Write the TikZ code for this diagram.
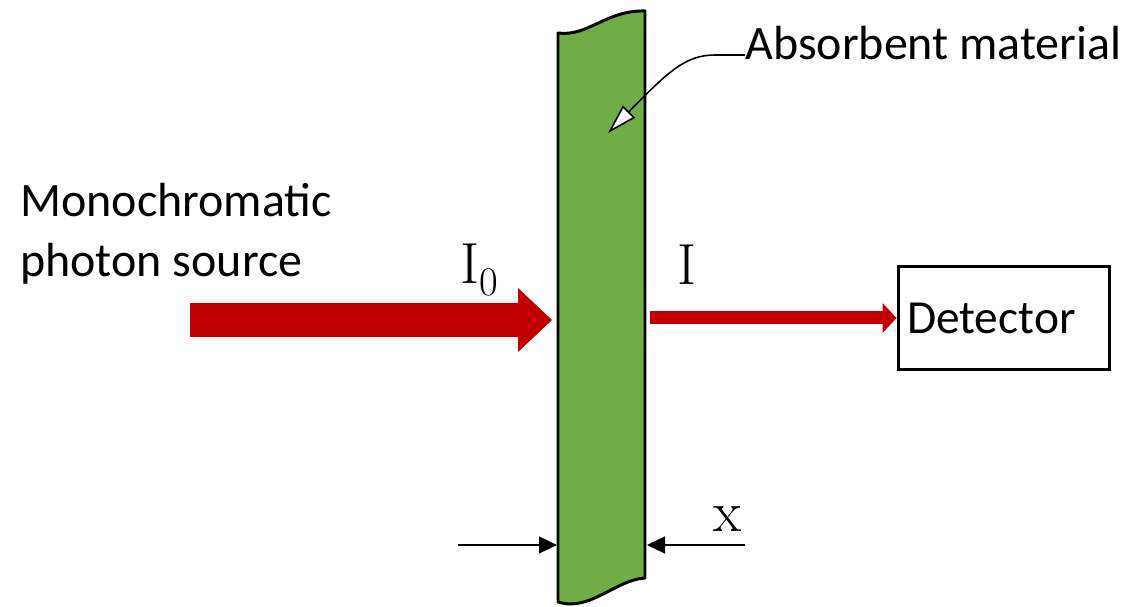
\documentclass[tikz,border=0pt]{standalone}
\usepackage{fontspec}
\setsansfont{Carlito}
\usetikzlibrary{arrows.meta,positioning,calc}
\definecolor{beamRed}{RGB}{192,0,0}
\definecolor{slabGreen}{RGB}{112,173,71}
\tikzset{abspanel/.style={
  x=0.02cm, y=-0.02cm,
  font=\sffamily\fontsize{27}{34}\selectfont,
  slab/.style={fill=slabGreen, draw=black, line width=1.7pt, line join=round},
  beam/.style={draw=beamRed, line cap=butt},
  lab/.style={inner sep=0pt, font=\sffamily\fontsize{27.3}{34}\selectfont},
  sym/.style={inner sep=0pt, font=\rmfamily\fontsize{33}{36}\selectfont},
  detbox/.style={draw=black, line width=1.7pt, inner xsep=0.18cm, text width=3.88cm, align=left, minimum height=2.06cm},
  callout/.style={-{Triangle[fill=white, length=0.6cm, width=0.34cm]}, line width=0.9pt},
  dimline/.style={-{Triangle[length=0.36cm, width=0.34cm]}, line width=0.75pt},
}}

\begin{document}
\begin{tikzpicture}[abspanel]
% =====================================================================
%  Beam through an absorbing slab of thickness x
% =====================================================================
\useasboundingbox (0,0) rectangle (1127,607);

% slab with torn ends
\draw[slab] (558,33) .. controls (588,37) and (606,10) .. (645,11) -- (645,578)
  .. controls (615,580) and (590,612) .. (558,602) -- cycle;

\coordinate (SrcTail) at (190,320);
\coordinate (SlabIn)  at (552,320);
\coordinate (SlabOut) at (650,318);

% labels
\node[lab, align=left, anchor=north west] (Src) at (20,183) {Monochromatic\\photon source};
\node[sym, anchor=base west] (Ia) at (460,284) {I\textsubscript{0}};
\node[sym, anchor=base west] (Ib) at (677,285) {I};
\node[lab, anchor=base west] (Abs) at (745,60) {Absorbent material};
\node[detbox] (Det) at (1004,318) {Detector};

% beams
\draw[beam, line width=0.68cm, -{Triangle[length=0.68cm, width=1.28cm, line width=0pt]}] (SrcTail) -- (SlabIn);
\draw[beam, line width=0.26cm, -{Triangle[length=0.28cm, width=0.6cm, line width=0pt]}] (SlabOut) -- (Det.west);

% callout
\coordinate (AbsTip) at (608,133);
\draw[callout] ($(Abs.base west)+(0,-5)$) -- ++(-30,0) .. controls (685,55) and (668,72) .. (AbsTip);

% thickness
\coordinate (ThkL)  at (458,545);
\coordinate (SlabL) at (557,545);
\coordinate (ThkR)  at (745,545);
\coordinate (SlabR) at (647,545);
\draw[dimline] (ThkL) -- (SlabL);
\draw[dimline] (ThkR) -- (SlabR);
\node[sym, anchor=base] (Xl) at (728,532) {x};
\end{tikzpicture}
\end{document}
